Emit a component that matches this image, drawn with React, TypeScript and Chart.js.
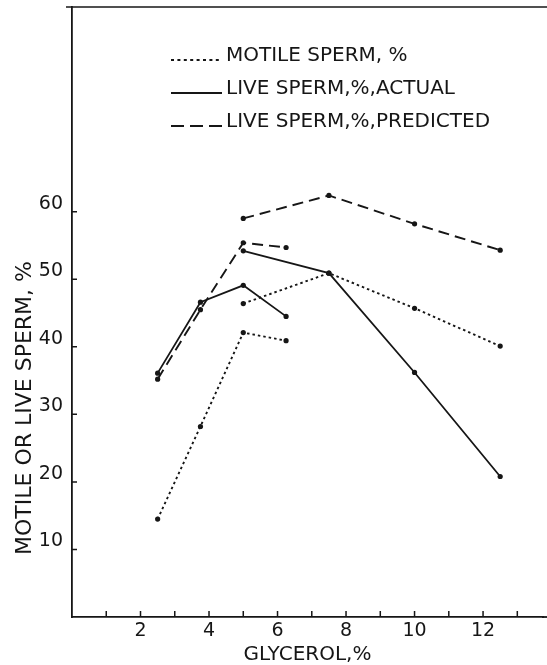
import React, { useEffect, useRef } from 'react';
import { Chart, registerables } from 'chart.js';

Chart.register(...registerables);

const FONT = '"DejaVu Sans", "Liberation Sans", sans-serif';
const INK = '#161616';

// Series labels
const SERIES_LABELS = ['MOTILE SPERM, %', 'LIVE SPERM,%,ACTUAL', 'LIVE SPERM,%,PREDICTED'];

// Glycerol levels (x) for the two experiment segments
const GLYCEROL_A = [2.5, 3.75, 5, 6.25];
const GLYCEROL_B = [5, 7.5, 10, 12.5];

// Motile sperm, %
const MOTILE_A = [14.5, 28.2, 42.1, 40.9];
const MOTILE_B = [46.4, 50.9, 45.7, 40.1];

// Live sperm, %, actual
const LIVE_ACTUAL_A = [36.1, 46.6, 49.1, 44.5];
const LIVE_ACTUAL_B = [54.2, 50.9, 36.2, 20.8];

// Live sperm, %, predicted
const LIVE_PRED_A = [35.2, 45.5, 55.4, 54.7];
const LIVE_PRED_B = [59.0, 62.4, 58.2, 54.3];

// Axis ticks / labels
const X_TICKS = [1, 2, 3, 4, 5, 6, 7, 8, 9, 10, 11, 12, 13];
const X_TICK_LABELS = [2, 4, 6, 8, 10, 12];
const Y_TICK_LABELS = [10, 20, 30, 40, 50, 60];
const X_TITLE = 'GLYCEROL,%';
const Y_TITLE = 'MOTILE OR LIVE SPERM, %';

function segments(a: number[], b: number[]) {
  return [
    ...GLYCEROL_A.map((x, i) => ({ x, y: a[i] as number | null })),
    { x: GLYCEROL_A[GLYCEROL_A.length - 1], y: null },
    ...GLYCEROL_B.map((x, i) => ({ x, y: b[i] as number | null })),
  ];
}

const LEGEND_DASH: number[][] = [[3, 3.4], [], [13, 6]];

function zeroPad(s: any) {
  s.paddingLeft = 0;
  s.paddingRight = 0;
  s.paddingTop = 0;
  s.paddingBottom = 0;
}

const decor = {
  id: 'decor',
  afterDraw(chart: any) {
    const { ctx, chartArea: ca, scales } = chart;
    const x = scales.x;
    const y = scales.y;
    ctx.save();
    ctx.strokeStyle = INK;
    ctx.fillStyle = INK;
    ctx.lineWidth = 1.6;
    ctx.setLineDash([]);
    // top frame line
    ctx.beginPath();
    ctx.moveTo(ca.left - 6, ca.top);
    ctx.lineTo(chart.width, ca.top);
    ctx.stroke();
    // bottom axis continues to the edge
    ctx.lineWidth = 1.8;
    ctx.beginPath();
    ctx.moveTo(ca.right - 1, ca.bottom);
    ctx.lineTo(chart.width, ca.bottom);
    ctx.stroke();
    // inward tick marks
    ctx.lineWidth = 1.5;
    ctx.beginPath();
    X_TICKS.forEach((v) => {
      const px = x.getPixelForValue(v);
      ctx.moveTo(px, ca.bottom);
      ctx.lineTo(px, ca.bottom - 6);
    });
    Y_TICK_LABELS.forEach((v) => {
      const py = y.getPixelForValue(v);
      ctx.moveTo(ca.left, py);
      ctx.lineTo(ca.left + 5, py);
    });
    ctx.stroke();

    // y axis title
    ctx.save();
    ctx.translate(y.left + 25, 408);
    ctx.rotate(-Math.PI / 2);
    ctx.font = `22px ${FONT}`;
    ctx.textAlign = 'center';
    ctx.textBaseline = 'middle';
    ctx.fillText(Y_TITLE, 0, 0);
    ctx.restore();

    // legend
    const rows = [61, 94, 127];
    ctx.font = `20px ${FONT}`;
    ctx.textAlign = 'left';
    ctx.textBaseline = 'alphabetic';
    chart.data.datasets.forEach((ds: any, i: number) => {
      const by = rows[i];
      ctx.beginPath();
      ctx.lineWidth = 2;
      ctx.setLineDash(LEGEND_DASH[i]);
      ctx.moveTo(171, by - 1);
      ctx.lineTo(222, by - 1);
      ctx.stroke();
      ctx.setLineDash([]);
      ctx.fillText(ds.label, 226, by);
    });
    ctx.restore();
  },
};

export default function App() {
  const ref = useRef<HTMLCanvasElement | null>(null);

  useEffect(() => {
    document.body.style.margin = '0';
    const canvas = ref.current;
    if (!canvas) return;
    const common = {
      borderColor: INK,
      backgroundColor: INK,
      pointRadius: 2.6,
      pointBackgroundColor: INK,
      pointBorderWidth: 0,
      tension: 0,
      spanGaps: false,
      fill: false,
    };
    const chart = new Chart(canvas, {
      type: 'line',
      data: {
        datasets: [
          { ...common, label: SERIES_LABELS[0], data: segments(MOTILE_A, MOTILE_B), borderWidth: 1.9, borderDash: [2.5, 3] },
          { ...common, label: SERIES_LABELS[1], data: segments(LIVE_ACTUAL_A, LIVE_ACTUAL_B), borderWidth: 1.8 },
          { ...common, label: SERIES_LABELS[2], data: segments(LIVE_PRED_A, LIVE_PRED_B), borderWidth: 1.9, borderDash: [11, 6] },
        ] as any,
      },
      options: {
        responsive: false,
        animation: false,
        devicePixelRatio: 1,
        layout: { padding: { top: 7, left: 0, right: 0, bottom: 0 } },
        plugins: { legend: { display: false }, tooltip: { enabled: false } },
        scales: {
          x: {
            type: 'linear',
            min: 0,
            max: 13.75,
            afterFit: (s: any) => { s.height = 48; zeroPad(s); },
            afterBuildTicks: (s: any) => { s.ticks = X_TICKS.map((v) => ({ value: v })); },
            grid: { display: false, drawTicks: false },
            border: { display: true, color: INK, width: 1.8 },
            ticks: {
              autoSkip: false,
              maxRotation: 0,
              padding: 3,
              color: INK,
              font: { family: FONT, size: 19 },
              callback: (v: any) => (X_TICK_LABELS.includes(Number(v)) ? String(v) : ''),
            },
            title: {
              display: true,
              text: X_TITLE,
              color: INK,
              font: { family: FONT, size: 20, lineHeight: 1 },
              padding: { top: 0, bottom: 0 },
            },
          },
          y: {
            type: 'linear',
            min: 0,
            max: 90.3,
            afterFit: (s: any) => { s.width = 72; zeroPad(s); },
            afterBuildTicks: (s: any) => { s.ticks = Y_TICK_LABELS.map((v) => ({ value: v })); },
            grid: { display: false, drawTicks: false },
            border: { display: true, color: INK, width: 1.8 },
            ticks: {
              padding: 9,
              labelOffset: -8,
              color: INK,
              font: { family: FONT, size: 19 },
              callback: (v: any) => String(v),
            },
          },
        },
      } as any,
      plugins: [decor],
    });
    return () => chart.destroy();
  }, []);

  return (
    <div style={{ width: 547, height: 665, background: '#fff' }}>
      <canvas ref={ref} width={547} height={665} style={{ display: 'block' }} />
    </div>
  );
}
